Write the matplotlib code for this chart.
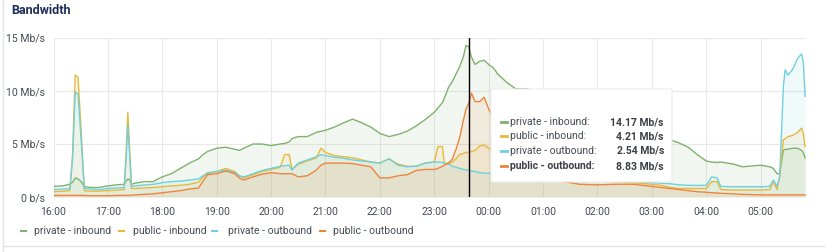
import matplotlib
matplotlib.use("Agg")
import matplotlib.pyplot as plt
from matplotlib.lines import Line2D
from matplotlib.patches import FancyBboxPatch

plt.rcParams['font.family'] = ['Roboto', 'DejaVu Sans']

# minutes since 16:00
minutes = [0, 10, 18, 21, 24, 27, 30, 34, 40, 50, 60, 70, 78, 80, 82, 84, 86, 90,
           100, 110, 120, 130, 140, 150, 160, 165, 170, 180, 190, 200, 205, 210,
           220, 230, 240, 250, 255, 260, 263, 270, 280, 290, 295, 300, 310, 320,
           330, 340, 350, 360, 370, 380, 390, 400, 410, 420, 424, 429, 431, 436,
           440, 444, 448, 452, 455, 458, 461, 465, 470, 475, 480, 485, 490, 500,
           510, 520, 540, 560, 580, 600, 620, 640, 660, 670, 680, 690, 700, 710,
           720, 726, 732, 736, 750, 760, 780, 790, 794, 798, 801, 805, 807, 810,
           815, 821, 825, 827, 829]

private_inbound = [1.0, 1.05, 1.2, 1.4, 1.8, 1.7, 1.5, 1.0, 0.9, 0.9, 1.05, 1.15, 1.2, 1.5, 1.7, 1.6, 1.2, 1.3,
                   1.45, 1.45, 1.9, 2.2, 2.7, 3.2, 3.6, 4.0, 4.3, 4.6, 4.7, 4.5, 4.4, 4.6,
                   5.0, 5.0, 4.85, 5.0, 5.05, 5.2, 5.5, 5.7, 5.7, 6.1, 6.2, 6.3, 6.6, 7.0,
                   7.35, 7.0, 6.6, 6.0, 5.7, 5.9, 6.2, 6.7, 7.3, 8.0, 8.4, 8.9, 9.3, 10.4,
                   10.9, 11.6, 12.3, 13.2, 14.3, 14.17, 13.2, 12.5, 12.8, 12.9, 12.5, 12.2, 11.6, 10.8,
                   10.2, 10.2, 10.0, 9.3, 8.6, 7.8, 7.0, 6.4, 5.8, 5.6, 5.4, 5.1, 4.7, 4.0,
                   3.4, 3.3, 3.25, 3.3, 3.1, 2.85, 3.0, 2.85, 2.7, 2.2, 2.2, 4.4, 4.5, 4.5,
                   4.6, 4.6, 4.4, 4.2, 3.7]

public_inbound = [0.5, 0.55, 0.6, 4.0, 11.5, 11.3, 7.0, 0.6, 0.55, 0.55, 0.6, 0.65, 0.7, 4.0, 8.0, 4.5, 0.8, 0.8,
                  0.85, 0.9, 0.97, 1.05, 1.1, 1.2, 1.4, 1.9, 2.2, 2.4, 2.7, 2.4, 2.0, 1.8,
                  2.1, 2.4, 2.6, 2.8, 4.0, 4.0, 2.6, 3.1, 3.4, 3.7, 4.6, 4.2, 3.9, 3.8,
                  3.7, 3.5, 3.3, 3.2, 3.6, 3.1, 2.9, 2.9, 3.2, 3.3, 4.75, 4.75, 3.2, 3.2,
                  3.3, 3.6, 4.0, 4.1, 4.2, 4.21, 4.3, 4.4, 4.8, 4.9, 4.6, 4.3, 4.0, 3.5,
                  3.0, 2.6, 2.1, 1.8, 1.6, 1.5, 1.45, 1.35, 1.2, 1.1, 0.9, 0.8, 0.8, 0.8,
                  0.8, 1.45, 1.45, 0.7, 0.65, 0.65, 0.65, 0.7, 1.45, 0.7, 1.9, 5.4, 5.5, 5.7,
                  5.8, 6.1, 6.5, 6.0, 4.75]

private_outbound = [0.7, 0.75, 0.8, 3.5, 9.9, 9.7, 6.0, 0.8, 0.75, 0.7, 0.8, 0.85, 0.9, 3.5, 6.8, 4.0, 1.0, 1.05,
                    1.13, 1.2, 1.35, 1.45, 1.5, 1.6, 1.7, 2.0, 2.3, 2.4, 2.55, 2.3, 2.0, 1.9,
                    2.2, 2.5, 2.7, 2.9, 2.95, 3.0, 2.55, 3.2, 3.5, 3.8, 4.0, 3.9, 3.75, 3.65,
                    3.5, 3.4, 3.3, 3.2, 3.6, 3.0, 2.85, 2.9, 3.2, 3.3, 3.3, 3.25, 3.2, 3.1,
                    2.9, 2.8, 2.7, 2.6, 2.55, 2.54, 2.45, 2.4, 2.3, 2.25, 2.25, 2.2, 2.2, 2.15,
                    2.1, 2.05, 2.0, 1.9, 1.8, 1.65, 1.55, 1.45, 1.35, 1.3, 1.25, 1.15, 1.1, 1.1,
                    1.1, 1.9, 1.8, 1.0, 0.97, 0.97, 0.97, 1.0, 1.6, 1.0, 1.9, 10.4, 12.0, 11.5,
                    12.0, 13.1, 13.5, 12.8, 9.5]

public_outbound = [0.15, 0.15, 0.15, 0.15, 0.15, 0.15, 0.15, 0.15, 0.12, 0.12, 0.12, 0.15, 0.15, 0.15, 0.15, 0.15, 0.18, 0.2,
                   0.25, 0.3, 0.4, 0.5, 0.6, 0.75, 0.85, 1.5, 2.1, 2.2, 2.45, 2.2, 1.8, 1.6,
                   1.9, 2.15, 2.3, 2.2, 2.2, 2.2, 2.2, 1.9, 2.0, 2.55, 3.0, 3.2, 3.2, 3.2,
                   3.15, 3.0, 2.85, 1.8, 1.8, 2.0, 2.1, 2.5, 2.6, 2.6, 2.7, 2.9, 3.0, 3.2,
                   3.6, 4.5, 5.6, 7.2, 8.3, 8.83, 9.8, 9.0, 9.0, 9.4, 8.3, 7.6, 6.8, 5.5,
                   4.3, 3.5, 2.3, 1.5, 1.2, 1.15, 1.2, 1.2, 1.0, 0.9, 0.8, 0.7, 0.6, 0.5,
                   0.45, 0.4, 0.38, 0.35, 0.3, 0.25, 0.2, 0.2, 0.2, 0.2, 0.2, 0.2, 0.2, 0.2,
                   0.2, 0.2, 0.2, 0.2, 0.2]

series_names = ["private - inbound", "public - inbound", "private - outbound", "public - outbound"]
series_colors = ["#7eb26d", "#eab839", "#6ed0e0", "#ef843c"]
tooltip_values = ["14.17 Mb/s", "4.21 Mb/s", "2.54 Mb/s", "8.83 Mb/s"]
cursor_minute = 458

tick_minutes = list(range(0, 781, 60))
tick_labels = ["16:00", "17:00", "18:00", "19:00", "20:00", "21:00", "22:00",
               "23:00", "00:00", "01:00", "02:00", "03:00", "04:00", "05:00"]
ytick_vals = [0, 5, 10, 15]
ytick_labels = ["0 b/s", "5 Mb/s", "10 Mb/s", "15 Mb/s"]

text_color = "#464c54"

fig = plt.figure(figsize=(8.25, 2.52), dpi=100)
ax = fig.add_axes([53.5 / 825, 55 / 252, (806 - 53.5) / 825, 159 / 252])

all_series = [private_inbound, public_inbound, private_outbound, public_outbound]
for name, vals, col in zip(series_names, all_series, series_colors):
    ax.fill_between(minutes, vals, 0, color=col, alpha=0.1, linewidth=0)
    ax.plot(minutes, vals, color=col, lw=1, label=name)

ax.axvline(cursor_minute, color="black", lw=1, zorder=5)

ax.set_xlim(0, 830)
ax.set_ylim(0, 15)
ax.set_xticks(tick_minutes)
ax.set_xticklabels(tick_labels)
ax.set_yticks(ytick_vals)
ax.set_yticklabels(ytick_labels)
ax.tick_params(length=0, labelsize=7.5, colors=text_color)
ax.tick_params(axis="x", pad=7)
ax.tick_params(axis="y", pad=6)
ax.grid(True, color="#e8e8e8", lw=0.8)
ax.set_axisbelow(True)
for s in ax.spines.values():
    s.set_visible(False)

fig.text(11 / 825, 1 - 11 / 252, "Bandwidth", fontsize=9, fontweight="bold",
         color="#1f2d5a", va="center", ha="left")

# legend under the plot, placed by hand
leg_dash = [(21, 26), (119, 124), (212, 217), (320, 325)]
leg_text_x = [34, 133, 228, 333]
leg_y = 1 - 231 / 252
for (d0, d1), tx, name, col in zip(leg_dash, leg_text_x, series_names, series_colors):
    fig.add_artist(Line2D([d0 / 825, d1 / 825], [leg_y, leg_y], color=col, lw=1.5))
    fig.text(tx / 825, leg_y, name, fontsize=7.5, color=text_color, va="center", ha="left")

# panel border
fig.add_artist(Line2D([3 / 825, 3 / 825], [0, 1], color="#e4e4e4", lw=1))
fig.add_artist(Line2D([3 / 825, 1], [1 - 246 / 252, 1 - 246 / 252], color="#e4e4e4", lw=1))

# hover tooltip
bx0, bx1 = 491 / 825, 672 / 825
by0, by1 = 1 - 182 / 252, 1 - 89 / 252
box = FancyBboxPatch((bx0, by0), bx1 - bx0, by1 - by0, boxstyle="round,pad=0,rounding_size=0.004",
                     transform=fig.transFigure, facecolor="white", edgecolor="#ececec",
                     lw=0.8, zorder=10)
fig.add_artist(box)
row_y = [122, 136, 151, 166]
for i, (name, col, val) in enumerate(zip(series_names, series_colors, tooltip_values)):
    yy = 1 - row_y[i] / 252
    weight = "bold" if i == 3 else "normal"
    fig.add_artist(Line2D([501 / 825, 507 / 825], [yy, yy], color=col, lw=2, zorder=11))
    fig.text(510 / 825, yy, name + ":", fontsize=7.5, color="#3c3f45" if i == 3 else text_color,
             fontweight=weight, va="center", ha="left", zorder=11)
    fig.text(664 / 825, yy, val, fontsize=7.5, color="#3c3f45", fontweight="bold",
             va="center", ha="right", zorder=11)

fig.savefig("out.png", dpi=100)
